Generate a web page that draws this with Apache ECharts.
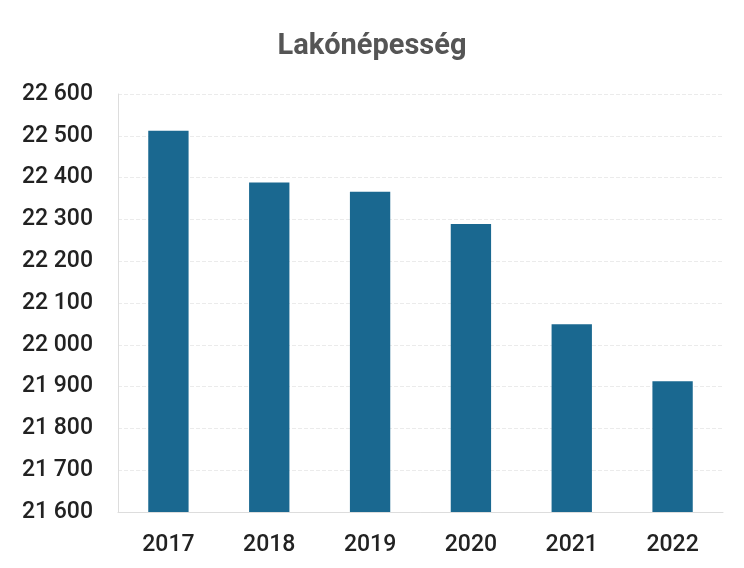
<!DOCTYPE html>
<html><head><meta charset="utf-8">
<script src="https://cdn.jsdelivr.net/npm/echarts@6/dist/echarts.min.js"></script>
<style>html,body{margin:0;padding:0;background:#fff}#c{width:744px;height:568px}</style>
</head><body><div id="c"></div>
<script>
const categories = ['2017','2018','2019','2020','2021','2022'];
const population = [22512, 22388, 22366, 22289, 22049, 21913];
const yMin = 21600, yMax = 22600, yStep = 100;
const titleText = 'Lakónépesség';

const chart = echarts.init(document.getElementById('c'));
chart.setOption({
  backgroundColor: '#fff',
  animation: false,
  title: {text: titleText, left: 'center', top: 27,
    textStyle: {fontFamily: 'Roboto', fontWeight: 'bold', fontSize: 29, color: '#555'}},
  grid: {left: 118, right: 21, top: 94, bottom: 56},
  xAxis: {type: 'category', data: categories,
    axisLine: {show: true, lineStyle: {color: '#ddd'}},
    axisTick: {show: false},
    axisLabel: {fontFamily: 'Roboto', fontWeight: 500, fontSize: 23, color: '#222', margin: 22}},
  yAxis: {type: 'value', min: yMin, max: yMax, interval: yStep,
    axisLine: {show: true, lineStyle: {color: '#ddd'}},
    axisTick: {show: false},
    splitLine: {lineStyle: {color: '#ebebeb', type: 'dashed'}},
    axisLabel: {fontFamily: 'Roboto', fontWeight: 500, fontSize: 23, color: '#222', margin: 25,
      formatter: v => String(v).replace(/\B(?=(\d{3})+(?!\d))/g, ' ')}},
  series: [{type: 'bar', data: population, barWidth: '40%',
    itemStyle: {color: '#1a6890'}}]
});
</script></body></html>
